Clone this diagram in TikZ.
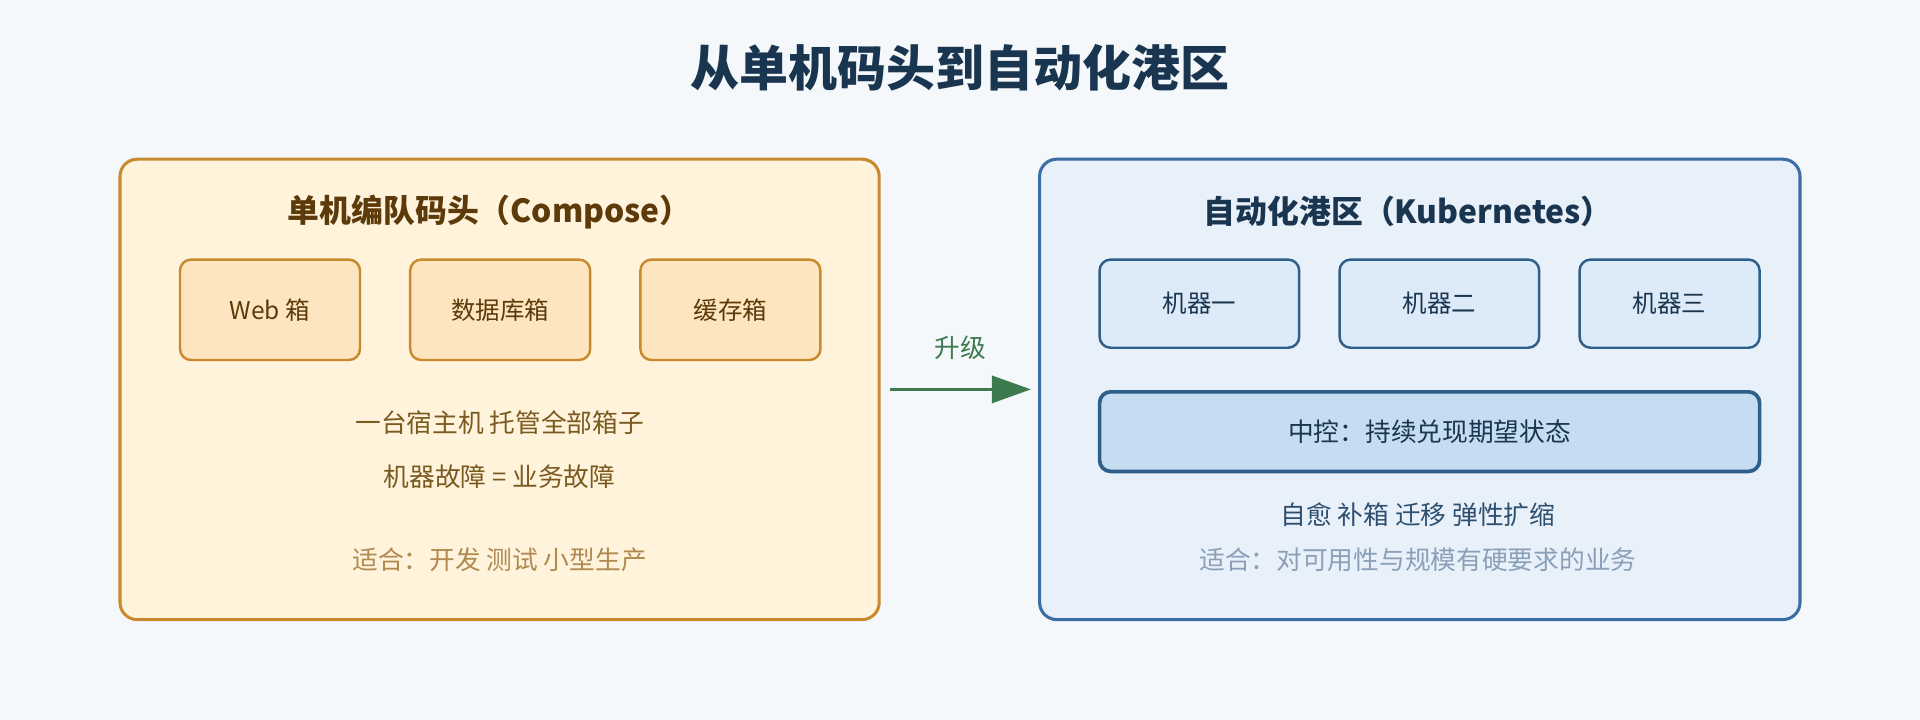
\documentclass[tikz,border=0pt]{standalone}
\usepackage{fontspec}
\setmainfont{Noto Sans CJK SC}
\usetikzlibrary{arrows.meta}
\definecolor{bg}{HTML}{F4F8FB}
\definecolor{navy}{HTML}{1A3550}
\definecolor{lfill}{HTML}{FFF3DC}
\definecolor{lbord}{HTML}{C98A2E}
\definecolor{lsub}{HTML}{FDE5C0}
\definecolor{ltxt}{HTML}{5C3A0A}
\definecolor{ltxt2}{HTML}{7A5A20}
\definecolor{ltxt3}{HTML}{B08A50}
\definecolor{rfill}{HTML}{E8F0F9}
\definecolor{rbord}{HTML}{3A6EA5}
\definecolor{rsub}{HTML}{DCEBF7}
\definecolor{rsb}{HTML}{2D5F8A}
\definecolor{rctl}{HTML}{C6DCF0}
\definecolor{rtxt2}{HTML}{2D4F70}
\definecolor{rtxt3}{HTML}{8AA0B8}
\definecolor{grn}{HTML}{3D7A50}
\begin{document}
\begin{tikzpicture}[x=1pt,y=-1pt,
 big/.style={draw,line width=2.5pt,rounded corners=14pt,inner sep=0},
 lsmall/.style={draw=lbord,fill=lsub,line width=2pt,rounded corners=9pt,text=ltxt,font=\fontsize{20}{24}\selectfont},
 rsmall/.style={draw=rsb,fill=rsub,line width=2pt,rounded corners=9pt,text=navy,font=\fontsize{20}{24}\selectfont},
 txt/.style={font=\fontsize{21}{25}\selectfont}]
\fill[bg] (0,0) rectangle (1568,588);
\node[font=\fontsize{40}{46}\selectfont\bfseries,text=navy] (title) at (784,55) {从单机码头到自动化港区};
% left
\draw[big,draw=lbord,fill=lfill] (98,130) rectangle (718,506);
\coordinate (L) at (718,318);
\node[font=\fontsize{26}{30}\selectfont\bfseries,text=ltxt] (lt) at (400,173) {单机编队码头（Compose）};
\draw[lsmall] (147,212) rectangle (294,294) node[midway] (w) {Web 箱};
\draw[lsmall] (335,212) rectangle (482,294) node[midway] (d) {数据库箱};
\draw[lsmall] (523,212) rectangle (670,294) node[midway] (c) {缓存箱};
\node[txt,text=ltxt2] (l1) at (408,345) {一台宿主机 托管全部箱子};
\node[txt,text=ltxt2] (l2) at (408,389) {机器故障 = 业务故障};
\node[txt,text=ltxt3] (l3) at (408,457) {适合：开发 测试 小型生产};
% right
\draw[big,draw=rbord,fill=rfill] (849,130) rectangle (1470,506);
\coordinate (R) at (849,318);
\node[font=\fontsize{26}{30}\selectfont\bfseries,text=navy] (rt) at (1150,173) {自动化港区（Kubernetes）};
\draw[rsmall] (898,212) rectangle (1061,284) node[midway] (m1) {机器一};
\draw[rsmall] (1094,212) rectangle (1257,284) node[midway] (m2) {机器二};
\draw[rsmall] (1290,212) rectangle (1437,284) node[midway] (m3) {机器三};
\draw[rsmall,fill=rctl,line width=3pt] (898,320) rectangle (1437,385) node[midway,font=\fontsize{21}{25}\selectfont] (ctl) {中控：持续兑现期望状态};
\node[txt,text=rtxt2] (r1) at (1158,420) {自愈 补箱 迁移 弹性扩缩};
\node[txt,text=rtxt3] (r2) at (1158,457) {适合：对可用性与规模有硬要求的业务};
% arrow
\draw[grn,line width=3pt,-{Triangle[length=32pt,width=22pt]},shorten <=9pt,shorten >=7pt] (L) -- (R);
\node[txt,text=grn] (up) at (784,284) {升级};
\end{tikzpicture}
\end{document}
